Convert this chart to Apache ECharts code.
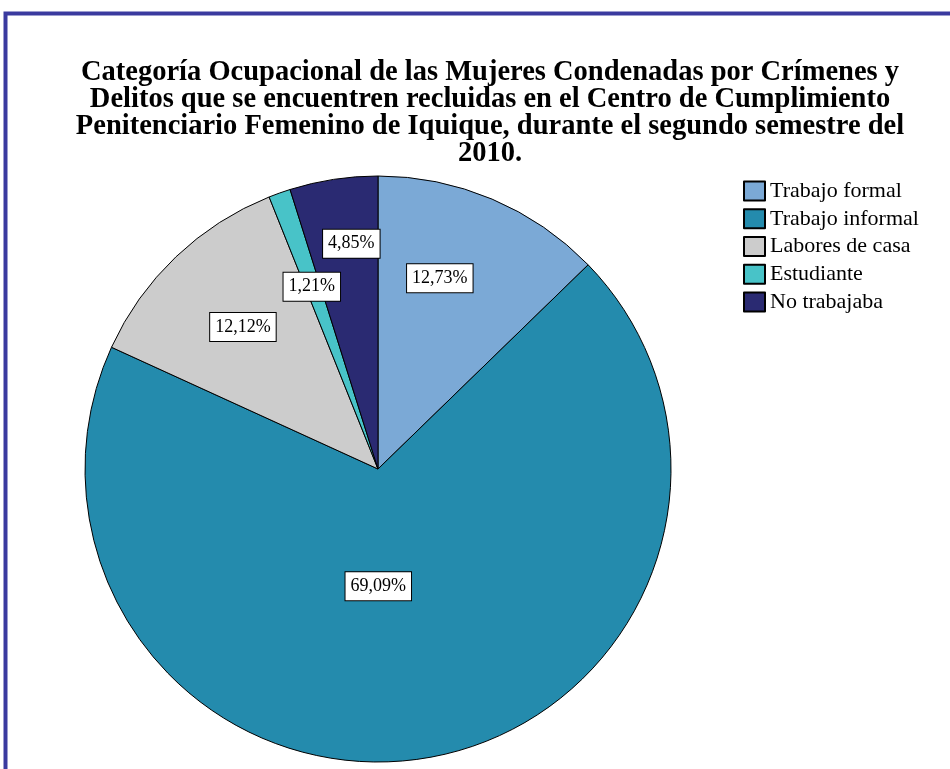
<!DOCTYPE html>
<html>
<head>
<meta charset="utf-8">
<script src="https://cdn.jsdelivr.net/npm/echarts@6/dist/echarts.min.js"></script>
<style>
  html, body { margin: 0; padding: 0; background: #fff; }
  #chart { width: 950px; height: 769px; }
</style>
</head>
<body>
<div id="chart"></div>
<script>
const categories = ['Trabajo formal', 'Trabajo informal', 'Labores de casa', 'Estudiante', 'No trabajaba']
const values = [12.73, 69.09, 12.12, 1.21, 4.85]
const colors = ['#7BA9D6', '#248BAD', '#CCCCCC', '#48C3C8', '#2A2A72']

const serif = 'Liberation Serif, Times New Roman, serif'

const chart = echarts.init(document.getElementById('chart'))

const pieData = categories.map((name, i) => ({
  name,
  value: values[i],
  itemStyle: { color: colors[i] }
}))

const labelStyle = {
  show: true,
  position: 'inside',
  formatter: p => p.value.toFixed(2).replace('.', ',') + '%',
  fontFamily: serif,
  fontSize: 18,
  color: '#000',
  backgroundColor: '#fff',
  borderColor: '#000',
  borderWidth: 1,
  padding: [6, 5, 4, 5]
}

// invisible overlay pies, only used to put the labels where excel put them
const labelSeries = (radius, idx, offset) => ({
  type: 'pie',
  silent: true,
  center: [378, 469],
  radius,
  startAngle: 90,
  clockwise: true,
  legendHoverLink: false,
  tooltip: { show: false },
  itemStyle: { color: 'rgba(0,0,0,0)', borderWidth: 0 },
  labelLine: { show: false },
  data: categories.map((name, i) => ({
    name: name + ' ',
    value: values[i],
    label: Object.assign({}, labelStyle, { show: i === idx, offset: offset || [0, 0] })
  })),
  z: 5
})

chart.setOption({
  animation: false,
  title: {
    text: 'Categoría Ocupacional de las Mujeres Condenadas por Crímenes y\nDelitos que se encuentren recluidas en el Centro de Cumplimiento\nPenitenciario Femenino de Iquique, durante el segundo semestre del\n2010.',
    left: 485,
    top: 54,
    textAlign: 'center',
    textStyle: {
      fontFamily: serif,
      fontWeight: 'bold',
      fontSize: 28.5,
      lineHeight: 27,
      color: '#000'
    }
  },
  legend: {
    data: categories,
    orient: 'vertical',
    left: 743,
    top: 180,
    padding: 0,
    itemWidth: 21,
    itemHeight: 19,
    itemGap: 5.75,
    icon: 'rect',
    selectedMode: false,
    textStyle: {
      fontFamily: serif,
      fontSize: 22,
      lineHeight: 22,
      color: '#000',
      padding: [0, 0, 0, 0]
    }
  },
  graphic: [
    {
      type: 'rect',
      shape: { x: 5.5, y: 13.5, width: 960, height: 780 },
      style: { fill: 'none', stroke: '#3A3A9F', lineWidth: 4 },
      silent: true
    }
  ],
  series: [
    {
      type: 'pie',
      center: [378, 469],
      radius: 293,
      startAngle: 90,
      clockwise: true,
      label: { show: false },
      labelLine: { show: false },
      itemStyle: { borderColor: '#000', borderWidth: 1 },
      emphasis: { scale: false },
      data: pieData
    },
    labelSeries([130, 274], 0, [-18, -2]),
    labelSeries([0, 232], 1, [-20, 0]),
    labelSeries([130, 270], 2, [5, 5]),
    labelSeries([124, 270], 3, [1, 6]),
    labelSeries([184, 280], 4, [9, 7])
  ]
})
</script>
</body>
</html>
